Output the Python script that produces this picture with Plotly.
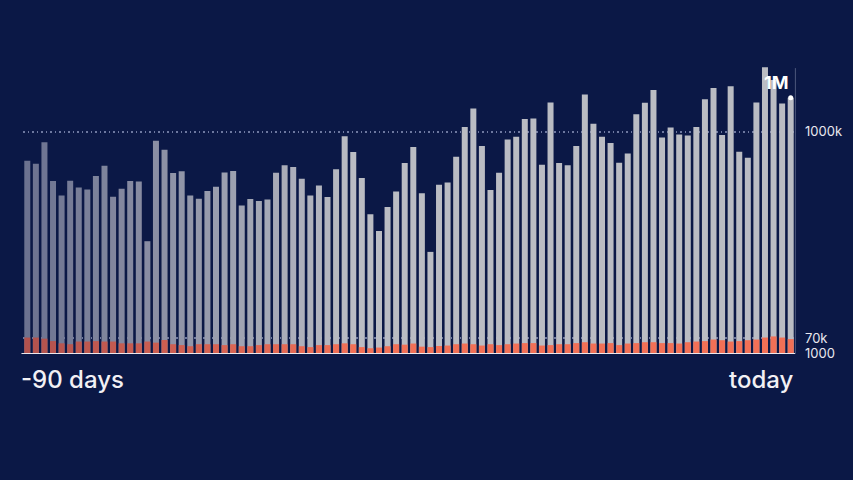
import plotly.graph_objects as go

# ---- data ----
days = list(range(-89, 1))  # 90 days, -89 .. today(0)
total_visits = [
    869, 855, 952, 778, 713, 779, 748, 739, 800, 846,
    707, 743, 778, 775, 507, 958, 918, 814, 821, 713,
    698, 733, 752, 816, 823, 668, 697, 688, 694, 815,
    848, 840, 788, 712, 757, 706, 830, 979, 908, 791,
    628, 553, 661, 730, 858, 931, 722, 459, 761, 771,
    887, 1020, 1103, 935, 737, 815, 964, 976, 1056, 1058,
    851, 1130, 858, 848, 935, 1166, 1035, 976, 948, 860,
    901, 1078, 1129, 1187, 973, 1018, 987, 982, 1020, 1145,
    1196, 984, 1204, 909, 882, 1130, 1289, 1232, 1126, 1152,
]
total_visits = [v * 1000 for v in total_visits]
highlight = [
    74, 74, 69, 58, 48, 44, 56, 56, 58, 56,
    56, 48, 48, 48, 56, 51, 63, 44, 40, 35,
    44, 44, 44, 40, 44, 35, 35, 40, 44, 44,
    44, 44, 35, 31, 40, 40, 44, 48, 44, 31,
    26, 29, 35, 44, 42, 47, 33, 31, 36, 38,
    44, 47, 44, 38, 44, 40, 44, 47, 49, 49,
    38, 40, 44, 44, 49, 53, 47, 47, 49, 40,
    47, 49, 53, 53, 49, 49, 47, 53, 56, 58,
    65, 62, 56, 58, 62, 65, 74, 79, 74, 67,
]
highlight = [v * 1000 for v in highlight]
tick_vals = [1000, 70000, 1000000]
tick_text = ["1000", "70k", "1000k"]
start_label = "-90 days"
end_label = "today"
counter_label = "1M"

# ---- styling ----
BG = "#0b1846"
n = len(days)

def mix(c1, c2, t):
    return "rgb(%d,%d,%d)" % tuple(round(a + (b - a) * t) for a, b in zip(c1, c2))

gray_cols, orange_cols = [], []
for i in range(n):
    t = min(1.0, i / 38)
    gray_cols.append(mix((108, 114, 144), (186, 188, 195), t))
    orange_cols.append(mix((178, 82, 78), (242, 112, 86), t))

fig = go.Figure()
fig.add_trace(go.Bar(x=days, y=total_visits, marker=dict(color=gray_cols, line_width=0),
                     hoverinfo="skip"))
fig.add_trace(go.Bar(x=days, y=highlight, marker=dict(color=orange_cols, line_width=0),
                     hoverinfo="skip"))
fig.add_trace(go.Scatter(x=[days[-1]], y=[total_visits[-1]], mode="markers",
                         marker=dict(color="white", size=5), cliponaxis=False,
                         hoverinfo="skip"))

YMAX = 1321500
fig.update_layout(
    width=853, height=480,
    paper_bgcolor=BG, plot_bgcolor=BG,
    margin=dict(l=23, r=57.7, t=60, b=125.5),
    barmode="overlay", bargap=0.3,
    showlegend=False,
    font=dict(family="Inter, sans-serif", color="#e9e8ef"),
    xaxis=dict(range=[days[0] - 0.5, days[-1] + 0.5], showgrid=False, zeroline=False,
               showticklabels=False, ticks=""),
    yaxis=dict(range=[0, YMAX], side="right", tickvals=tick_vals, ticktext=tick_text,
               showgrid=True, gridcolor="rgba(175,185,220,0.6)", griddash="1.5px,3px",
               gridwidth=1.5, zeroline=False, ticks="", ticklabelstandoff=9,
               tickfont=dict(size=13, color="#e9e8ef", family="Inter, sans-serif")),
    shapes=[
        dict(type="line", xref="paper", yref="y", x0=-0.002, x1=1.0, y0=0, y1=0,
             line=dict(color="#ece8ee", width=2), layer="above"),
        dict(type="line", xref="paper", yref="y", x0=1.0005, x1=1.0005, y0=0, y1=1285000,
             line=dict(color="rgba(200,205,225,0.35)", width=1), layer="above"),
    ],
    annotations=[
        dict(text=start_label, xref="paper", yref="paper", x=-0.005, y=-0.087,
             xanchor="left", yanchor="middle", showarrow=False,
             font=dict(size=24, color="#f2f0f4", family="Inter, sans-serif", weight=500)),
        dict(text=end_label, xref="paper", yref="paper", x=1.001, y=-0.087,
             xanchor="right", yanchor="middle", showarrow=False,
             font=dict(size=24, color="#f2f0f4", family="Inter, sans-serif", weight=500)),
        dict(text="<b>" + counter_label + "</b>", xref="x", yref="y", x=days[-2] - 0.6,
             y=1220000, xanchor="center", yanchor="middle", showarrow=False,
             font=dict(size=18, color="#ffffff", family="Inter, sans-serif")),
    ],
)

fig.write_html(
    "out.html",
    config={"displayModeBar": False},
    post_script="document.body.style.margin='0';document.body.style.background='%s';" % BG,
)
